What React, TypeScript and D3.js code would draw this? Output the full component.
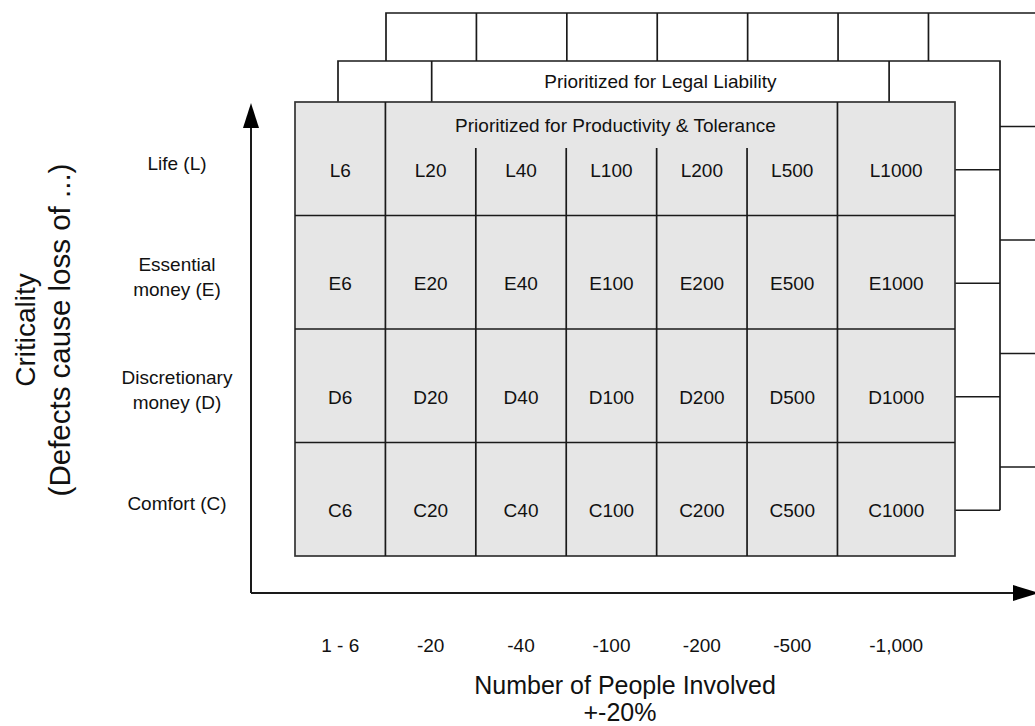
import React from "react";
import * as d3 from "d3";

// ---- data ----
const criticalityCodes = ["L", "E", "D", "C"];
const criticalityLabels = [
  ["Life (L)"],
  ["Essential", "money (E)"],
  ["Discretionary", "money (D)"],
  ["Comfort (C)"],
];
const peopleCounts = [6, 20, 40, 100, 200, 500, 1000];
const peopleTickLabels = ["1 - 6", "-20", "-40", "-100", "-200", "-500", "-1,000"];
const productivityTitle = "Prioritized for Productivity & Tolerance";
const legalTitle = "Prioritized for Legal Liability";
const xTitle = ["Number of People Involved", "+-20%"];
const yTitle = ["Criticality", "(Defects cause loss of ...)"];

// ---- layout ----
const W = 1035;
const H = 726;
const colWeights = [1, 1, 1, 1, 1, 1, 1.3];
const colEdges = [0, ...d3.cumsum(colWeights)];
const FONT = "'Liberation Sans', Arial, Helvetica, sans-serif";
const INK = "#1a1a1a";
const SW = 1.7;

export default function App() {
  const x = d3.scaleLinear().domain([0, colEdges[colEdges.length - 1]]).range([295, 955]);
  const y = d3.scaleBand<string>().domain(criticalityCodes).range([102, 556]).paddingInner(0).paddingOuter(0);
  const rh = y.bandwidth();
  const top = y.range()[0];
  const bottom = y.range()[1];
  const left = x.range()[0];
  const right = x.range()[1];
  const colCenter = (i: number) => (x(colEdges[i]) + x(colEdges[i + 1])) / 2;
  const rowCenter = (c: string) => (y(c) as number) + rh / 2;
  const headerBottom = top + 46;

  // layered copies behind the front grid
  const mid = { dx: 43, dy: -41 };
  const back = { dx: 91, dy: -89 };
  const xm = d3.scaleLinear().domain(x.domain()).range([left + mid.dx, right + mid.dx + 2]);
  const midTop = top + mid.dy;
  const midRight = xm.range()[1];
  const connY = (c: string) => rowCenter(c) + 11;

  const backTop = top + back.dy;
  const bx = (v: number) => x(v) + back.dx;

  const axisX = 251;
  const axisY = 593;

  return (
    <svg
      width={W}
      height={H}
      style={{ position: "absolute", left: 0, top: 0, background: "#fff" }}
      fontFamily={FONT}
    >
      {/* back layer */}
      <g stroke={INK} strokeWidth={SW} fill="none">
        <path d={`M${bx(0)},${midTop} V${backTop} H${W + 5}`} />
        {colEdges.slice(1, 7).map((e, i) => (
          <line key={"bv" + i} x1={bx(e)} x2={bx(e)} y1={backTop} y2={midTop} />
        ))}
        {criticalityCodes.map((c, i) => (
          <line
            key={"bh" + i}
            x1={midRight}
            x2={W + 5}
            y1={(y(c) as number) + rh + back.dy}
            y2={(y(c) as number) + rh + back.dy}
          />
        ))}
      </g>

      {/* middle layer */}
      <g stroke={INK} strokeWidth={SW} fill="none">
        <path d={`M${xm(0)},${top} V${midTop} H${midRight} V${connY("C")}`} />
        <line x1={xm(colEdges[1]) + 3} x2={xm(colEdges[1]) + 3} y1={midTop} y2={top} />
        <line x1={xm(colEdges[6]) + 7} x2={xm(colEdges[6]) + 7} y1={midTop} y2={top} />
        {criticalityCodes.map((c) => (
          <line key={"mt" + c} x1={right} x2={midRight} y1={connY(c)} y2={connY(c)} />
        ))}
      </g>
      <text
        x={(xm(colEdges[1]) + xm(colEdges[6])) / 2 + 5}
        y={midTop + 27}
        textAnchor="middle"
        fontSize={19}
        fill="#111"
      >
        {legalTitle}
      </text>

      {/* front grid */}
      <rect x={left} y={top} width={right - left} height={bottom - top} fill="#e6e6e6" stroke="#333" strokeWidth={SW} />
      <g stroke={INK} strokeWidth={SW}>
        {criticalityCodes.slice(1).map((c) => (
          <line key={"rl" + c} x1={left} x2={right} y1={y(c) as number} y2={y(c) as number} />
        ))}
        {colEdges.slice(1, 7).map((e, i) => {
          const full = i === 0 || i === 5;
          return <line key={"cl" + i} x1={x(e)} x2={x(e)} y1={full ? top : headerBottom} y2={bottom} />;
        })}
      </g>
      <text
        x={(x(colEdges[1]) + x(colEdges[6])) / 2 + 4}
        y={top + 30}
        textAnchor="middle"
        fontSize={19}
        fill="#111"
      >
        {productivityTitle}
      </text>
      {criticalityCodes.map((c) =>
        peopleCounts.map((n, j) => (
          <text
            key={c + n}
            x={colCenter(j)}
            y={rowCenter(c) + 18}
            textAnchor="middle"
            fontSize={19}
            fill="#111"
          >
            {c + n}
          </text>
        ))
      )}

      {/* row labels */}
      {criticalityCodes.map((c, i) => {
        const lines = criticalityLabels[i];
        const base = rowCenter(c) + 11 - ((lines.length - 1) * 25) / 2;
        return (
          <text key={"lab" + c} textAnchor="middle" fontSize={19} fill="#111">
            {lines.map((t, k) => (
              <tspan key={k} x={177} y={base + k * 25}>
                {t}
              </tspan>
            ))}
          </text>
        );
      })}

      {/* axes */}
      <g stroke={INK} strokeWidth={2} fill="none">
        <line x1={axisX} x2={axisX} y1={axisY} y2={120} />
        <line x1={axisX} x2={W - 12} y1={axisY} y2={axisY} />
      </g>
      <path d={`M${axisX},${103} L${axisX - 8},${128} L${axisX + 8},${128} Z`} fill="#000" />
      <path d={`M${W + 4},${axisY} L${W - 22},${axisY - 8} L${W - 22},${axisY + 8} Z`} fill="#000" />

      {/* x tick labels */}
      {peopleTickLabels.map((t, j) => (
        <text key={"xt" + j} x={colCenter(j)} y={652} textAnchor="middle" fontSize={19} fill="#111">
          {t}
        </text>
      ))}
      <text textAnchor="middle" fontSize={25} fill="#111">
        <tspan x={625} y={694}>{xTitle[0]}</tspan>
        <tspan x={620} y={721}>{xTitle[1]}</tspan>
      </text>

      {/* y title */}
      <g transform="translate(0,330) rotate(-90)">
        <text textAnchor="middle" fill="#111">
          <tspan x={0} y={35} fontSize={28}>{yTitle[0]}</tspan>
          <tspan x={0} y={70} fontSize={29.5}>{yTitle[1]}</tspan>
        </text>
      </g>
    </svg>
  );
}
